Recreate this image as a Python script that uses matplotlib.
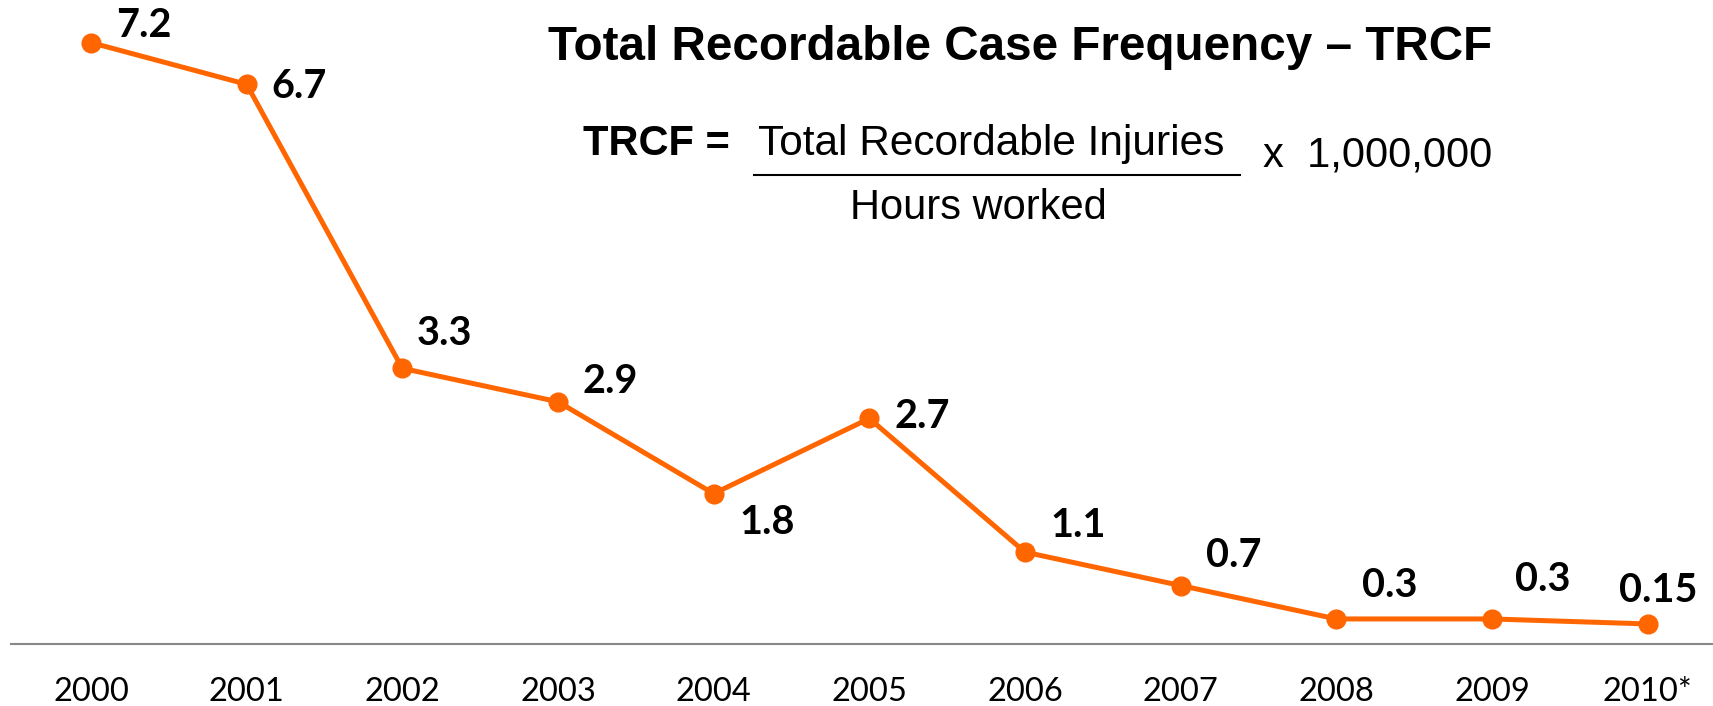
import matplotlib
matplotlib.use("Agg")
import matplotlib.pyplot as plt

years = ["2000", "2001", "2002", "2003", "2004", "2005", "2006", "2007", "2008", "2009", "2010*"]
trcf = [7.2, 6.7, 3.3, 2.9, 1.8, 2.7, 1.1, 0.7, 0.3, 0.3, 0.24]
value_labels = ["7.2", "6.7", "3.3", "2.9", "1.8", "2.7", "1.1", "0.7", "0.3", "0.3", "0.15"]
# label offsets in pixels (dx, dy up)
label_offsets = [(53, 17), (52, -2), (42, 35), (52, 20), (54, -29), (53, 2),
                 (53, 27), (53, 30), (53, 33), (51, 39), (11, 33)]

W, H, DPI = 1713, 706, 100
fig = plt.figure(figsize=(W / DPI, H / DPI), dpi=DPI)
ax = fig.add_axes([11 / W, (H - 644) / H, 1 - 11 / W, 644 / H])

orange = "#FF6600"
x = list(range(len(years)))
ax.plot(x, trcf, color=orange, lw=3.6, marker="o", markersize=13.5, zorder=3)

px = 72 / DPI
for xi, yi, lab, (dx, dy) in zip(x, trcf, value_labels, label_offsets):
    ax.annotate(lab, (xi, yi), xytext=(dx * px, dy * px), textcoords="offset points",
                ha="center", va="center", fontsize=28.5, fontweight="bold",
                family="Lato", color="black")

ax.set_xlim(-0.514, 10.42)
ax.set_ylim(0, 7.71)
for s in ["top", "right", "left"]:
    ax.spines[s].set_visible(False)
ax.spines["bottom"].set_color("#888888")
ax.spines["bottom"].set_linewidth(1.5)
ax.set_yticks([])
ax.set_xticks(x)
ax.set_xticklabels(years, fontsize=23.5, family="Lato")
ax.tick_params(axis="x", length=0, pad=24)

def fx(p):
    return p / W

def fy(p):
    return 1 - p / H

fig.text(fx(1020), fy(47), "Total Recordable Case Frequency \u2013 TRCF", ha="center", va="center",
         fontsize=34.3, fontweight="bold", family="Liberation Sans")
fig.text(fx(730), fy(144), "TRCF =", ha="right", va="center", fontsize=30,
         fontweight="bold", family="Liberation Sans")
fig.text(fx(991), fy(144), "Total Recordable Injuries", ha="center", va="center",
         fontsize=30.5, family="Liberation Sans")
fig.add_artist(plt.Line2D([fx(754), fx(1240)], [fy(175), fy(175)], color="black", lw=1.5))
fig.text(fx(1263), fy(156), "x  1,000,000", ha="left", va="center", fontsize=30,
         family="Liberation Sans")
fig.text(fx(978), fy(208), "Hours worked", ha="center", va="center", fontsize=30,
         family="Liberation Sans")

fig.savefig("out.png", dpi=DPI)
